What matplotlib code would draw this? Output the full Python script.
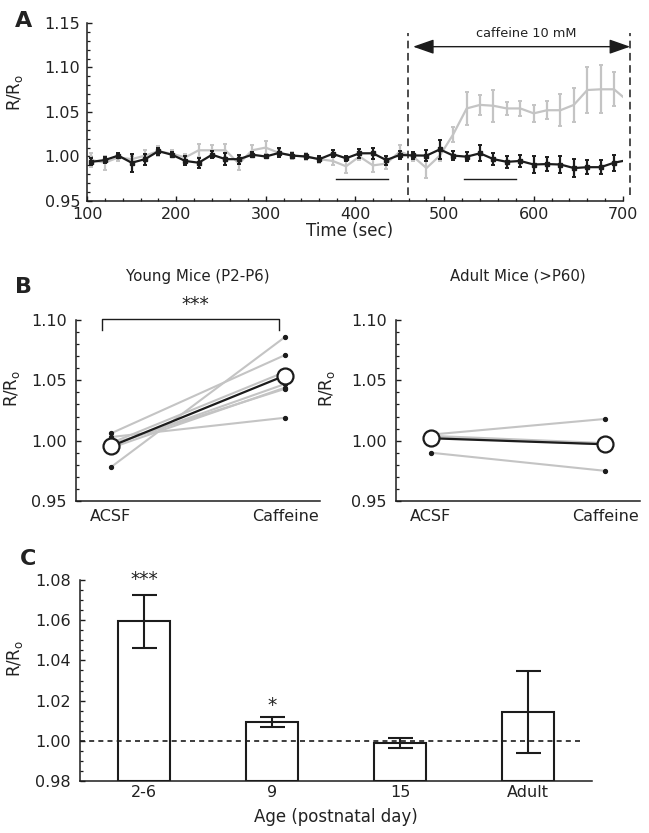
import matplotlib
matplotlib.use("Agg")
import matplotlib.pyplot as plt
from matplotlib.ticker import MultipleLocator

# ---------------- data ----------------
time_s = [105, 120, 135, 150, 165, 180, 195, 210, 225, 240, 255, 270, 285, 300,
          315, 330, 345, 360, 375, 390, 405, 420, 435, 450, 465, 480, 495, 510,
          525, 540, 555, 570, 585, 600, 615, 630, 645, 660, 675, 690]
adult_trace = [0.994, 0.996, 1.001, 0.993, 0.997, 1.006, 1.002, 0.995, 0.993, 1.002,
               0.997, 0.997, 1.002, 1.000, 1.004, 1.001, 1.000, 0.997, 1.003, 0.998,
               1.0036, 1.0036, 0.996, 1.0017, 1.0012, 1.001, 1.008, 1.001, 0.9998, 1.0036,
               0.997, 0.994, 0.995, 0.991, 0.9915, 0.991, 0.987, 0.988, 0.988, 0.993]
adult_err = [0.004, 0.003, 0.003, 0.010, 0.006, 0.004, 0.003, 0.005, 0.0056, 0.004,
             0.007, 0.005, 0.003, 0.002, 0.005, 0.003, 0.003, 0.003, 0.004, 0.003,
             0.005, 0.006, 0.005, 0.004, 0.004, 0.006, 0.011, 0.005, 0.005, 0.009,
             0.007, 0.007, 0.007, 0.010, 0.008, 0.010, 0.010, 0.008, 0.008, 0.009]
young_trace = [0.996, 0.993, 0.999, 0.997, 1.001, 1.006, 1.003, 0.999, 1.007, 1.007,
               1.007, 0.992, 1.007, 1.010, 1.004, 1.001, 1.000, 0.997, 0.995, 0.989,
               1.000, 0.990, 0.992, 1.0055, 1.000, 0.987, 1.001, 1.025, 1.054, 1.058,
               1.057, 1.054, 1.054, 1.0485, 1.052, 1.052, 1.058, 1.0747, 1.0755, 1.0755]
young_err = [0.008, 0.008, 0.004, 0.004, 0.006, 0.006, 0.004, 0.004, 0.007, 0.006,
             0.007, 0.007, 0.006, 0.007, 0.004, 0.004, 0.004, 0.004, 0.005, 0.008,
             0.004, 0.007, 0.006, 0.007, 0.005, 0.011, 0.006, 0.0084, 0.019, 0.011,
             0.018, 0.0075, 0.0084, 0.0094, 0.0103, 0.018, 0.0187, 0.026, 0.027, 0.019]
trace_end_time = 700
adult_end = 0.995
young_end = 1.067
caffeine_on = 459
caffeine_off = 708
window1 = [379, 437]
window2 = [522, 580]

conditions = ["ACSF", "Caffeine"]
young_acsf = [0.978, 1.006, 0.998, 0.996, 0.994, 0.997, 1.003]
young_caff = [1.086, 1.071, 1.057, 1.047, 1.044, 1.043, 1.019]
young_mean = [0.9953, 1.054]
adult_acsf = [1.005, 0.990, 1.003, 1.004]
adult_caff = [1.018, 0.975, 0.997, 0.998]
adult_mean = [1.002, 0.997]

age_groups = ["2-6", "9", "15", "Adult"]
age_means = [1.0594, 1.0094, 0.9988, 1.0142]
age_sem = [0.0131, 0.0023, 0.0025, 0.0203]
age_stars = ["***", "*", "", ""]

# ---------------- style ----------------
W, H = 649, 833
GRAY = "#c4c4c4"
BLACK = "#1c1c1c"
TXT = "#222222"
plt.rcParams.update({
    "font.family": "DejaVu Sans",
    "text.color": TXT,
    "axes.labelcolor": TXT,
    "xtick.color": BLACK,
    "ytick.color": BLACK,
    "xtick.labelcolor": TXT,
    "ytick.labelcolor": TXT,
    "axes.linewidth": 1.1,
    "axes.edgecolor": BLACK,
})
YLAB = r"R/R$_\mathrm{o}$"

fig = plt.figure(figsize=(W / 100, H / 100), dpi=100)


def box(l, t, r, b):
    return [l / W, 1 - b / H, (r - l) / W, (b - t) / H]


def base_style(ax, ypad=5):
    for s in ["top", "right"]:
        ax.spines[s].set_visible(False)
    ax.tick_params(axis="y", which="major", direction="in", length=3.5, width=1.0,
                   labelsize=11.5, pad=ypad)
    ax.tick_params(axis="y", which="minor", direction="in", length=2.2, width=0.9)


# ---------------- Panel A ----------------
axA = fig.add_axes(box(87, 23, 623, 201))
base_style(axA, ypad=5)
axA.plot(time_s + [trace_end_time], young_trace + [young_end], color=GRAY, lw=1.6, zorder=2)
axA.errorbar(time_s, young_trace, yerr=young_err, fmt="none", ecolor=GRAY,
             elinewidth=1.6, capsize=1.6, capthick=1.4, zorder=2)
axA.plot(time_s + [trace_end_time], adult_trace + [adult_end], color=BLACK, lw=1.6, zorder=3)
axA.errorbar(time_s, adult_trace, yerr=adult_err, fmt="s", ms=2.5, color=BLACK,
             ecolor=BLACK, elinewidth=1.6, capsize=1.6, capthick=1.4, zorder=3)
axA.set_xlim(100, 700)
axA.set_ylim(0.95, 1.15)
axA.set_xticks([100, 200, 300, 400, 500, 600, 700])
axA.set_yticks([0.95, 1.00, 1.05, 1.10, 1.15])
axA.set_yticklabels(["0.95", "1.00", "1.05", "1.10", "1.15"])
axA.xaxis.set_minor_locator(MultipleLocator(20))
axA.yaxis.set_minor_locator(MultipleLocator(0.01))
axA.tick_params(axis="x", which="major", direction="in", length=3.5, width=1.0,
                labelsize=11.5, pad=4)
axA.tick_params(axis="x", which="minor", direction="in", length=2.2, width=0.9)
axA.set_xlabel("Time (sec)", fontsize=12)
axA.xaxis.set_label_coords(0.489, -0.118, transform=axA.transAxes)
axA.xaxis.label.set_va("top")
axA.set_ylabel(YLAB, fontsize=12)
axA.yaxis.set_label_coords(-0.116, 0.61)

for xv in (caffeine_on, caffeine_off):
    axA.plot([xv, xv], [0.957, 1.139], color=BLACK, lw=1.1, ls=(0, (5, 3)),
             clip_on=False, zorder=4)
axA.annotate("", xy=(465, 1.1234), xytext=(caffeine_off, 1.1234),
             arrowprops=dict(arrowstyle="<|-|>,head_length=0.8,head_width=0.28",
                             color=BLACK, lw=1.0, shrinkA=0, shrinkB=0,
                             mutation_scale=16),
             annotation_clip=False)
axA.text(592, 1.1346, "caffeine 10 mM", ha="center", va="baseline", fontsize=9.3)
for w in (window1, window2):
    axA.plot(w, [0.9744, 0.9744], color=BLACK, lw=1.0, zorder=4)

# ---------------- Panel B ----------------
def panel_b(ax, acsf, caff, mean, title):
    base_style(ax, ypad=6.5)
    for a, c in zip(acsf, caff):
        ax.plot([0, 1], [a, c], color=GRAY, lw=1.5, zorder=2)
        ax.plot([0, 1], [a, c], ls="none", marker="o", ms=2.8, color=BLACK, zorder=3)
    ax.plot([0, 1], mean, color=BLACK, lw=1.6, marker="o", ms=11.5, mfc="white",
            mec=BLACK, mew=1.6, zorder=5)
    ax.set_xlim(-0.2, 1.2)
    ax.set_ylim(0.95, 1.10)
    ax.set_yticks([0.95, 1.00, 1.05, 1.10])
    ax.set_yticklabels(["0.95", "1.00", "1.05", "1.10"])
    ax.yaxis.set_minor_locator(MultipleLocator(0.01))
    ax.set_xticks([0, 1])
    ax.set_xticklabels(conditions)
    ax.tick_params(axis="x", length=0, labelsize=11.5, pad=6)
    ax.set_ylabel(YLAB, fontsize=12)
    ax.text(0.5, 1.218, title, transform=ax.transAxes, ha="center", va="baseline",
            fontsize=10.8)


axB1 = fig.add_axes(box(76, 320, 320, 501))
panel_b(axB1, young_acsf, young_caff, young_mean, "Young Mice (P2-P6)")
axB1.yaxis.set_label_coords(-0.221, 0.62)
axB1.plot([-0.048, -0.048, 0.967, 0.967], [1.092, 1.1006, 1.1006, 1.092],
          color=BLACK, lw=1.0, clip_on=False)
axB1.text(0.483, 1.108, "***", ha="center", va="baseline", fontsize=13.5)

axB2 = fig.add_axes(box(396, 320, 640, 501))
panel_b(axB2, adult_acsf, adult_caff, adult_mean, "Adult Mice (>P60)")
axB2.yaxis.set_label_coords(-0.242, 0.62)

# ---------------- Panel C ----------------
axC = fig.add_axes(box(80, 580, 592, 781))
base_style(axC, ypad=6.5)
xpos = list(range(len(age_groups)))
axC.bar(xpos, [m - 0.98 for m in age_means], bottom=0.98, width=0.40, color="white",
        edgecolor=BLACK, linewidth=1.5, zorder=2)
axC.errorbar(xpos, age_means, yerr=age_sem, fmt="none", ecolor=BLACK, elinewidth=1.5,
             capsize=9, capthick=1.5, zorder=4)
axC.plot([-0.5, 3.41], [1.0, 1.0], color=BLACK, lw=1.2, ls=(0, (3, 2.5)), zorder=3)
axC.set_xlim(-0.5, 3.5)
axC.set_ylim(0.98, 1.08)
axC.set_yticks([0.98, 1.00, 1.02, 1.04, 1.06, 1.08])
axC.set_yticklabels(["0.98", "1.00", "1.02", "1.04", "1.06", "1.08"])
axC.yaxis.set_minor_locator(MultipleLocator(0.005))
axC.set_xticks(xpos)
axC.set_xticklabels(age_groups)
axC.tick_params(axis="x", length=0, labelsize=11.5, pad=3)
axC.set_xlabel("Age (postnatal day)", fontsize=12)
axC.xaxis.set_label_coords(0.5, -0.135)
axC.xaxis.label.set_va("top")
axC.set_ylabel(YLAB, fontsize=12)
axC.yaxis.set_label_coords(-0.107, 0.61)
star_y = [1.0775, 1.0149]
for i, s in enumerate(age_stars):
    if s:
        axC.text(xpos[i], star_y[i], s, ha="center", va="baseline", fontsize=13.5)

# panel letters
fig.text(15 / W, 1 - 27 / H, "A", fontsize=16, fontweight="bold", va="baseline")
fig.text(15 / W, 1 - 293 / H, "B", fontsize=16, fontweight="bold", va="baseline")
fig.text(20 / W, 1 - 565 / H, "C", fontsize=16, fontweight="bold", va="baseline")

fig.savefig("out.png", dpi=100)
